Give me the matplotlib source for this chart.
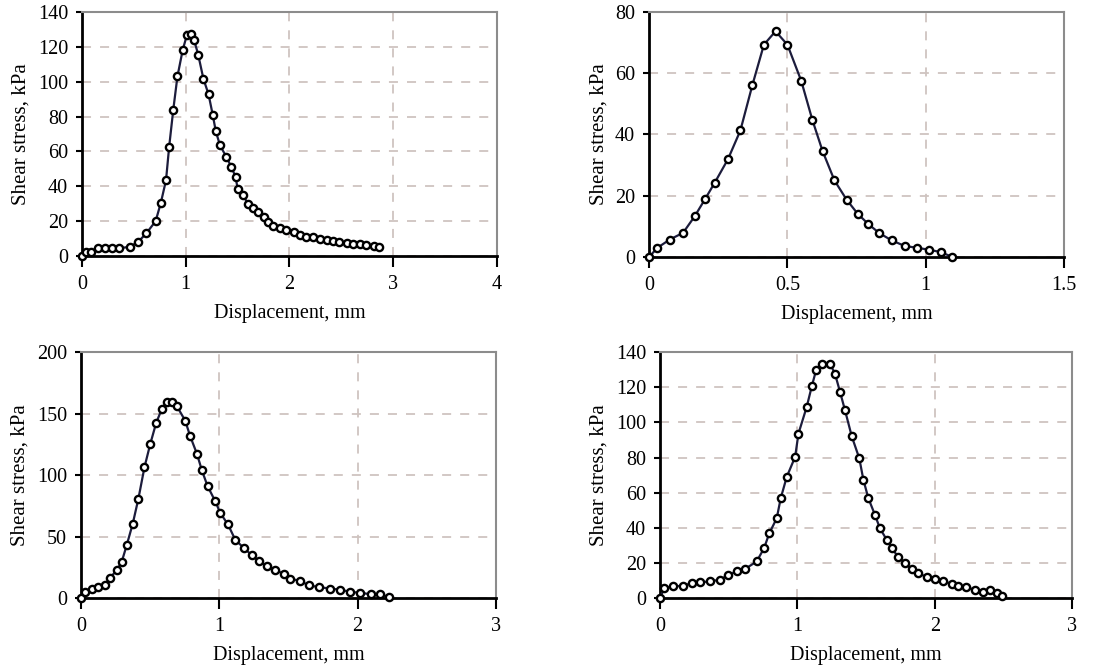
#shear_curves.py

"""Shear stress vs displacement for four direct shear tests."""

import matplotlib
matplotlib.use("Agg")
from matplotlib import pyplot as plt

#Test 1 (top left)
disp_1 = [0, 0.035, 0.09, 0.155, 0.22, 0.29, 0.36, 0.46, 0.54, 0.62, 0.71, 0.76, 0.81,
          0.84, 0.88, 0.92, 0.97, 1.01, 1.05, 1.08, 1.12, 1.17, 1.22, 1.26, 1.29, 1.33,
          1.39, 1.44, 1.48, 1.50, 1.55, 1.60, 1.65, 1.70, 1.75, 1.79, 1.84, 1.91, 1.97,
          2.04, 2.10, 2.16, 2.23, 2.29, 2.36, 2.42, 2.48, 2.55, 2.61, 2.68, 2.74, 2.81, 2.86]
stress_1 = [0, 2, 2.5, 4.4, 4.4, 4.4, 4.4, 5.3, 8, 13, 20, 30.5, 43.5,
            62.6, 84, 103, 118, 126.5, 127.5, 124, 115.5, 101.7, 92.7, 81, 71.5, 63.5,
            57, 51, 45.4, 38.7, 35, 30, 27.3, 25.4, 22.5, 19.7, 17.2, 15.8, 14.9,
            13.5, 12, 11, 10.7, 9.5, 9.2, 8.8, 7.8, 7.3, 6.9, 6.7, 6.3, 5.7, 5]

#Test 2 (top right)
disp_2 = [0, 0.03, 0.075, 0.123, 0.165, 0.203, 0.237, 0.285, 0.33, 0.373, 0.415, 0.457,
          0.50, 0.55, 0.59, 0.627, 0.67, 0.714, 0.754, 0.793, 0.832, 0.877, 0.924, 0.968,
          1.01, 1.054, 1.096]
stress_2 = [0, 3, 5.7, 7.9, 13.3, 19, 24.2, 31.9, 41.3, 56, 69.3, 73.7,
            69.3, 57.5, 44.8, 34.6, 25, 18.7, 14.1, 10.7, 7.8, 5.4, 3.6, 3,
            2.4, 1.6, 0]

#Test 3 (bottom left)
disp_3 = [0, 0.03, 0.077, 0.126, 0.174, 0.21, 0.258, 0.294, 0.33, 0.374, 0.415, 0.459,
          0.50, 0.543, 0.585, 0.62, 0.657, 0.693, 0.753, 0.789, 0.838, 0.874, 0.915, 0.971,
          1.007, 1.062, 1.115, 1.175, 1.236, 1.284, 1.344, 1.405, 1.465, 1.513, 1.586, 1.646,
          1.718, 1.803, 1.875, 1.948, 2.02, 2.093, 2.165, 2.225]
stress_3 = [0, 4.9, 7.6, 8.9, 10.3, 16.5, 22.5, 29.3, 42.8, 60.4, 80.8, 106.5,
            125, 142.3, 154, 159.3, 159.3, 156, 144.4, 131.7, 117.3, 103.8, 91, 78.6,
            69.1, 59.9, 47.4, 40.9, 34.7, 30.1, 25.7, 22.5, 19.8, 15.7, 13.8, 10.3,
            8.9, 7.6, 6.8, 4.9, 4.3, 3, 3, 0.8]

#Test 4 (bottom right)
disp_4 = [0, 0.03, 0.097, 0.17, 0.23, 0.29, 0.364, 0.437, 0.497, 0.558, 0.618, 0.703,
          0.757, 0.795, 0.849, 0.878, 0.922, 0.983, 1.007, 1.067, 1.104, 1.135, 1.176, 1.237,
          1.273, 1.31, 1.346, 1.395, 1.45, 1.48, 1.516, 1.564, 1.60, 1.65, 1.686, 1.734,
          1.783, 1.831, 1.88, 1.94, 2.0, 2.062, 2.122, 2.17, 2.227, 2.292, 2.353, 2.401,
          2.45, 2.486]
stress_4 = [0, 5.7, 6.6, 7, 8.5, 8.9, 9.5, 10.4, 13.2, 15.1, 16.5, 20.8,
            28.4, 36.9, 45.4, 56.8, 69, 80.4, 93.6, 108.8, 120.5, 129.6, 133.4, 133.4,
            127.7, 117.3, 106.9, 92.1, 79.5, 67.2, 56.8, 47.3, 39.7, 33.1, 28.4, 23.3,
            19.9, 16.5, 14.2, 11.9, 10.8, 9.5, 8.1, 7, 6.1, 4.7, 3.2, 4.4,
            2.8, 0.9]

#Axis limits and ticks for each panel
xlims = [(0, 4), (0, 1.5), (0, 3), (0, 3)]
xticks = [[0, 1, 2, 3, 4], [0, 0.5, 1, 1.5], [0, 1, 2, 3], [0, 1, 2, 3]]
xticklabels = [["0", "1", "2", "3", "4"], ["0", "0.5", "1", "1.5"],
               ["0", "1", "2", "3"], ["0", "1", "2", "3"]]
ylims = [(0, 140), (0, 80), (0, 200), (0, 140)]
yticks = [list(range(0, 141, 20)), list(range(0, 81, 20)),
          list(range(0, 201, 50)), list(range(0, 141, 20))]

plt.rcParams["font.family"] = ["Liberation Serif", "DejaVu Serif"]

fig = plt.figure(figsize=(11.02, 6.68), dpi=100)
#Axes boxes in figure fractions (left, bottom, width, height)
boxes = [(0.0744, 0.6168, 0.3766, 0.3653),
         (0.589, 0.6153, 0.3766, 0.3668),
         (0.0735, 0.1048, 0.3766, 0.368),
         (0.599, 0.1048, 0.374, 0.368)]
data = [(disp_1, stress_1), (disp_2, stress_2), (disp_3, stress_3), (disp_4, stress_4)]

for i in range(4):
    ax = fig.add_axes(boxes[i])
    x, y = data[i]
    ax.plot(x, y, color="#1c1c3c", linewidth=1.6, marker="o", markersize=5.2,
            markerfacecolor="white", markeredgecolor="black", markeredgewidth=1.7,
            clip_on=False, zorder=3)
    ax.set_xlim(xlims[i])
    ax.set_ylim(ylims[i])
    ax.set_xticks(xticks[i])
    ax.set_xticklabels(xticklabels[i])
    ax.set_yticks(yticks[i])
    #Dashed light grid
    ax.grid(True, color="#cfc4c0", linestyle=(0, (5, 5)), linewidth=1.3)
    ax.set_axisbelow(True)
    #Spines: dark on left/bottom, grey on top/right
    for side in ["left", "bottom"]:
        ax.spines[side].set_color("black")
        ax.spines[side].set_linewidth(2)
    for side in ["top", "right"]:
        ax.spines[side].set_color("#8c8c8c")
        ax.spines[side].set_linewidth(1.5)
    ax.tick_params(axis="x", direction="out", length=8, width=1.5, pad=6,
                   labelsize=14.5, colors="black")
    ax.tick_params(axis="y", direction="out", length=4, width=1.5, pad=6,
                   labelsize=14.5, colors="black")
    ax.set_xlabel("Displacement, mm", fontsize=14.5, labelpad=7)
    ax.set_ylabel("Shear stress, kPa", fontsize=15, labelpad=5)

plt.savefig("out.png", dpi=100)
